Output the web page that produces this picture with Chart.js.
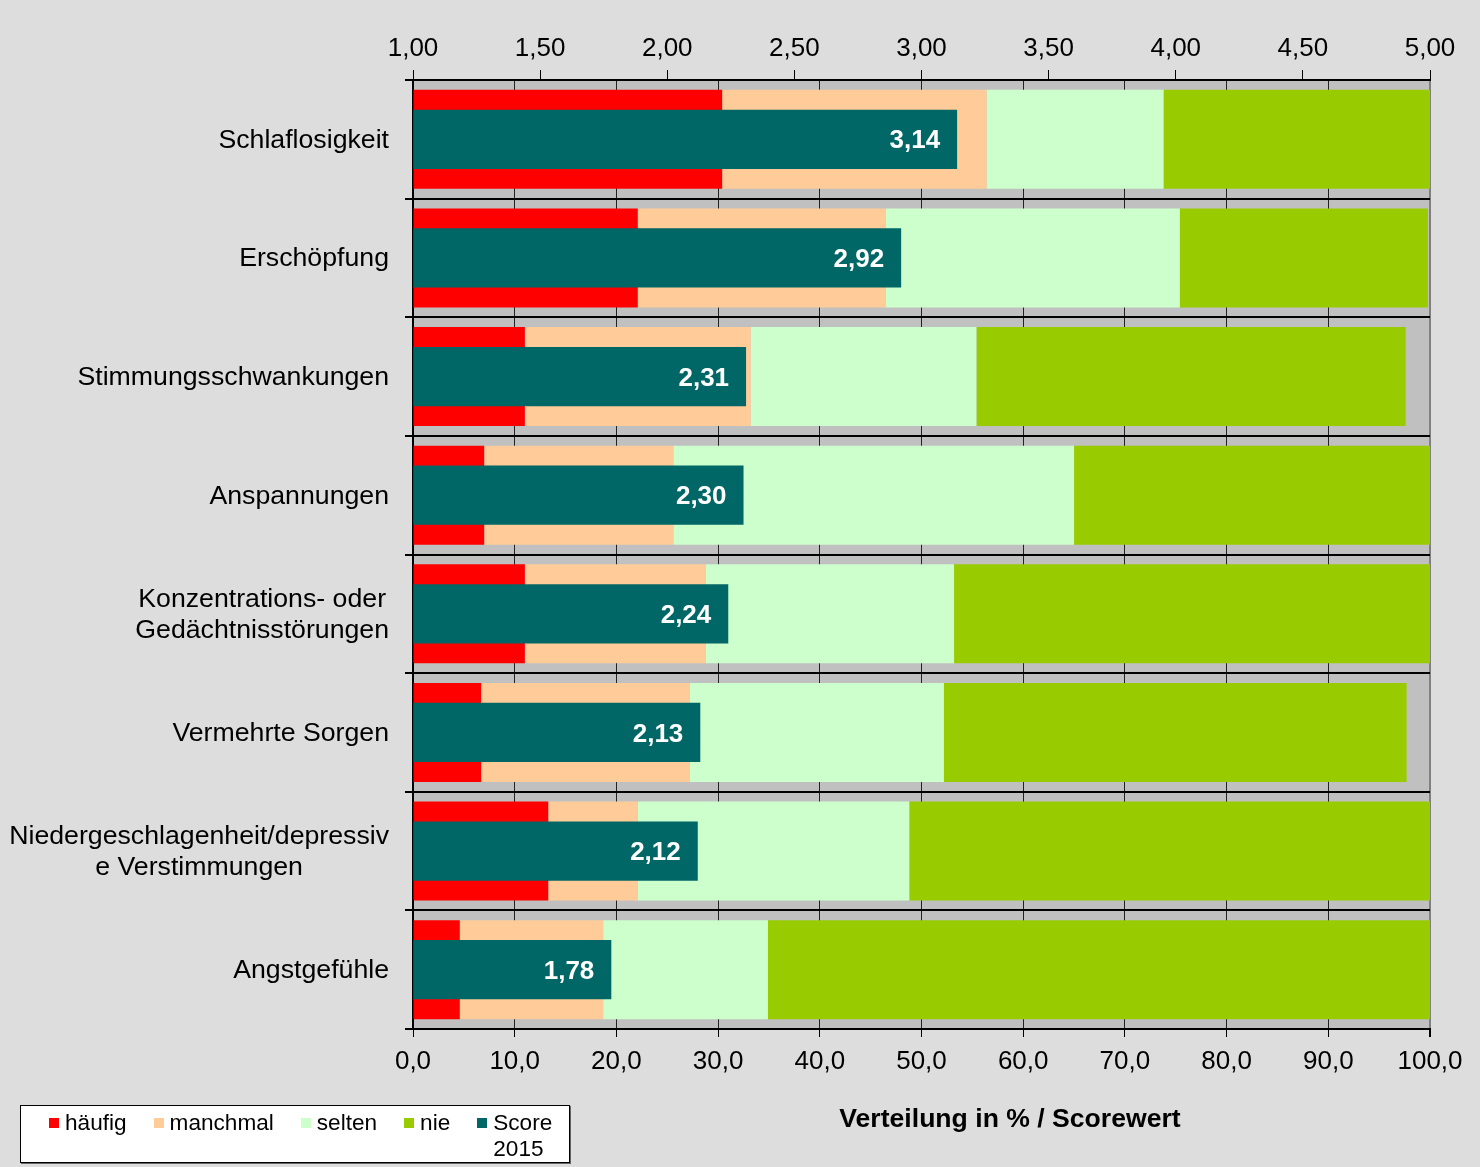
<!DOCTYPE html>
<html lang="de">
<head>
<meta charset="utf-8">
<title>Beschwerden – Verteilung in % / Scorewert</title>
<script src="https://cdn.jsdelivr.net/npm/chart.js@4.4.1/dist/chart.umd.min.js"></script>
<style>
  html, body { margin: 0; padding: 0; background: #dddddd; }
  #wrap { position: relative; width: 1480px; height: 1167px; }
  #legend {
    position: absolute; left: 20px; top: 1105px; width: 550px; height: 58px;
    box-sizing: border-box; background: #fff; border: 1px solid #000;
    box-shadow: 1px 1px 0 #666; padding: 4px 0 0 28px;
    display: flex; gap: 27px; align-items: flex-start;
    font: 22.6px "Liberation Sans", Arial, sans-serif; line-height: 26px; color: #000;
  }
  #legend .item { display: flex; align-items: flex-start; }
  #legend .box { width: 10px; height: 10px; margin: 8px 6px 0 0; flex: none; }
  #legend .item:last-child span { max-width: 66px; }
  #axisTitle {
    position: absolute; left: 760px; width: 500px; top: 1103px; text-align: center;
    font: bold 26.6px "Liberation Sans", Arial, sans-serif; color: #000;
  }
</style>
</head>
<body>
<div id="wrap">
  <canvas id="chart" width="1480" height="1167"></canvas>
  <div id="legend"></div>
  <div id="axisTitle">Verteilung in % / Scorewert</div>
</div>
<script>
const categories = [
  'Schlaflosigkeit',
  'Erschöpfung',
  'Stimmungsschwankungen',
  'Anspannungen',
  ['Konzentrations- oder', 'Gedächtnisstörungen'],
  'Vermehrte Sorgen',
  ['Niedergeschlagenheit/depressiv', 'e Verstimmungen'],
  'Angstgefühle'
]

// Verteilung in %
const haeufig  = [30.4, 22.1, 11.0,  7.0, 11.0,  6.7, 13.3,  4.6]
const manchmal = [26.0, 24.4, 22.2, 18.6, 17.8, 20.5,  8.8, 14.1]
const selten   = [17.4, 28.9, 22.2, 39.4, 24.4, 25.0, 26.7, 16.2]
const nie      = [26.2, 24.4, 42.2, 35.0, 46.8, 45.5, 51.2, 65.1]

// Scorewert (1 = nie ... 5)
const score2015 = [3.14, 2.92, 2.31, 2.30, 2.24, 2.13, 2.12, 1.78]

const seriesNames = ['häufig', 'manchmal', 'selten', 'nie', 'Score 2015']
const colors = ['#ff0000', '#ffcc99', '#ccffcc', '#99cc00', '#006666']

const FONT = '"Liberation Sans", Arial, sans-serif'
const comma = (v, d) => v.toFixed(d).replace('.', ',')

Chart.defaults.font.family = FONT
Chart.defaults.color = '#000'

// grauer Hintergrund der Zeichnungsfläche
const plotBackground = {
  id: 'plotBackground',
  beforeDraw(chart) {
    const { ctx, chartArea: a } = chart
    ctx.save()
    ctx.fillStyle = '#c0c0c0'
    ctx.fillRect(a.left, a.top, a.right - a.left, a.bottom - a.top)
    ctx.restore()
  }
}

// Kategorien: Block rechtsbündig, Zeilen zentriert
const categoryLabels = {
  id: 'categoryLabels',
  afterDraw(chart) {
    const { ctx } = chart
    const y = chart.scales.y
    ctx.save()
    ctx.font = '26.7px ' + FONT
    ctx.fillStyle = '#000'
    ctx.textAlign = 'center'
    ctx.textBaseline = 'middle'
    categories.forEach((label, i) => {
      const lines = [].concat(label)
      const w = Math.max(...lines.map(l => ctx.measureText(l).width))
      const cx = y.right - 24 - w / 2
      const cy = y.getPixelForTick(i)
      lines.forEach((l, k) => ctx.fillText(l, cx, cy + 1 + (k - (lines.length - 1) / 2) * 31))
    })
    ctx.restore()
  }
}

// Scorewerte innen am Balkenende
const scoreLabels = {
  id: 'scoreLabels',
  afterDatasetsDraw(chart) {
    const { ctx } = chart
    const meta = chart.getDatasetMeta(4)
    ctx.save()
    ctx.font = 'bold 26px ' + FONT
    ctx.fillStyle = '#fff'
    ctx.textAlign = 'right'
    ctx.textBaseline = 'middle'
    meta.data.forEach((bar, i) => ctx.fillText(comma(score2015[i], 2), bar.x - 17, bar.y + 2))
    ctx.restore()
  }
}

const distData = [haeufig, manchmal, selten, nie]
const datasets = distData.map((data, i) => ({
  label: seriesNames[i],
  data,
  backgroundColor: colors[i],
  stack: 'dist',
  xAxisID: 'x'
}))
datasets.push({
  label: seriesNames[4],
  data: score2015,
  backgroundColor: colors[4],
  xAxisID: 'x2',
  base: 1,
  order: -1,
  barPercentage: 0.5
})

new Chart(document.getElementById('chart'), {
  type: 'bar',
  data: { labels: categories, datasets },
  options: {
    indexAxis: 'y',
    responsive: false,
    animation: false,
    layout: { padding: { right: 50 } },
    datasets: { bar: { grouped: false, categoryPercentage: 1, barPercentage: 0.834 } },
    plugins: { legend: { display: false }, tooltip: { enabled: false } },
    scales: {
      x: {
        position: 'bottom',
        min: 0, max: 100,
        stacked: true,
        afterFit: s => { s.height = 138 },
        ticks: { stepSize: 10, autoSkip: false, maxRotation: 0, padding: 9, font: { size: 26 }, callback: v => comma(v, 1) },
        grid: {
          color: c => c.tick && c.tick.value === 100 ? '#808080' : '#222',
          lineWidth: c => c.tick && c.tick.value === 100 ? 2 : 1,
          tickColor: '#000', tickLength: 8
        },
        border: { color: '#000', width: 2 }
      },
      x2: {
        position: 'top',
        min: 1, max: 5,
        afterFit: s => { s.height = 80 },
        ticks: { stepSize: 0.5, autoSkip: false, maxRotation: 0, padding: 6, font: { size: 26 }, callback: v => comma(v, 2) },
        grid: { drawOnChartArea: false, color: '#000', tickLength: 10 },
        border: { color: '#000', width: 2 }
      },
      y: {
        afterFit: s => { s.width = 413 },
        ticks: { display: false },
        grid: { offset: true, color: '#000', lineWidth: 2, tickLength: 8 },
        border: { color: '#000', width: 2 }
      }
    }
  },
  plugins: [plotBackground, categoryLabels, scoreLabels]
})

// Legende
const legend = document.getElementById('legend')
seriesNames.forEach((name, i) => {
  const item = document.createElement('div')
  item.className = 'item'
  item.innerHTML = `<div class="box" style="background:${colors[i]}"></div><span>${name}</span>`
  legend.appendChild(item)
})
</script>
</body>
</html>
